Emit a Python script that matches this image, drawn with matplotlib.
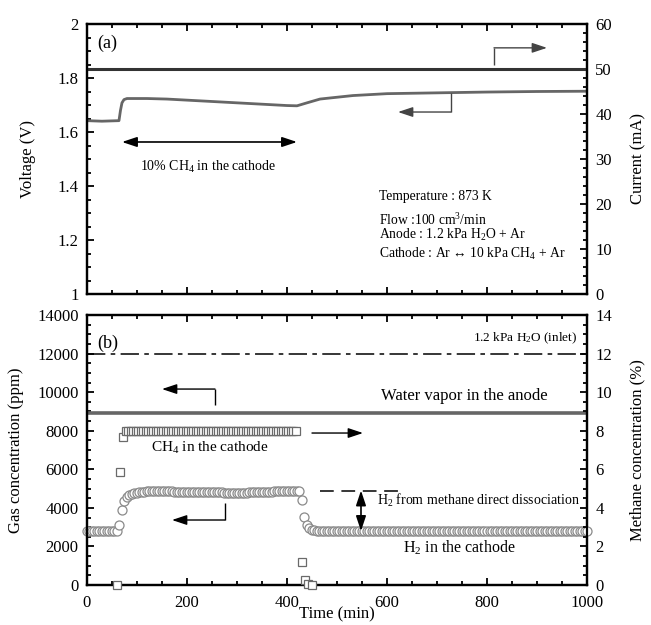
"""Voltage / current and gas concentrations vs. time (two stacked panels)."""

from __future__ import annotations

import matplotlib
import matplotlib.pyplot as plt
import numpy as np
from matplotlib.ticker import FuncFormatter, MultipleLocator

matplotlib.use("Agg")

# ---- panel (a): cell voltage and current -------------------------------
voltage_time = [0, 30, 64, 67, 70, 74, 80, 120, 160, 200, 250, 300, 350, 400,
                420, 440, 466, 486, 532, 600, 700, 800, 900, 1000]
voltage_v = [1.642, 1.640, 1.642, 1.680, 1.708, 1.720, 1.724, 1.724, 1.722,
             1.718, 1.713, 1.708, 1.703, 1.698, 1.697, 1.708, 1.722, 1.726,
             1.735, 1.742, 1.745, 1.748, 1.750, 1.751]
current_time = [0, 1000]
current_ma = [50.0, 50.0]

# ---- panel (b): gas concentrations ---------------------------------------
inlet_time = [0, 1000]
inlet_ppm = [12000, 12000]
water_time = [0, 1000]
water_ppm = [8900, 8900]

h2_time = (list(range(0, 61, 5))
           + [65, 70, 75, 80, 85, 90, 95, 100, 105, 110, 115, 120]
           + list(range(125, 421, 5))
           + [425, 430, 435, 440, 445, 450, 455]
           + list(range(460, 1001, 5)))
h2_ppm = ([2800] * 13
          + [3100, 3900, 4350, 4550, 4650, 4710, 4750, 4780, 4810, 4830, 4840, 4850]
          + [4860] * 10 + [4830] * 10 + [4800] * 10 + [4790] * 10
          + [4820] * 10 + [4860] * 10
          + [4880, 4400, 3550, 3100, 2950, 2870, 2830]
          + [2800] * 109)

ch4_time = [60, 66, 72] + list(range(78, 421, 5)) + [430, 436, 442, 450]
ch4_pct = [0.0, 5.86, 7.67] + [7.98] * 69 + [1.19, 0.26, 0.05, 0.0]

dissociation_time = [466, 626]
dissociation_ppm = [4900, 4900]

TEXT_FONT = ["Liberation Serif", "DejaVu Serif"]


def style_axes(ax, right: bool = False) -> None:
    ax.tick_params(which="both", direction="in", width=1.3, labelsize=12,
                   top=not right, bottom=not right, left=not right, right=right)
    ax.tick_params(which="major", length=5)
    ax.tick_params(which="minor", length=3)
    ax.tick_params(axis="y", pad=6)
    ax.tick_params(axis="x", pad=7)
    for spine in ax.spines.values():
        spine.set_linewidth(1.6)


def l_arrow(ax, x0, y0, y1, x1, color="black") -> None:
    """Vertical stem from (x0, y0) to (x0, y1), then arrow to (x1, y1)."""
    ax.plot([x0, x0], [y0, y1], color=color, lw=1.0, solid_capstyle="butt")
    ax.annotate("", xy=(x1, y1), xytext=(x0, y1),
                arrowprops=dict(arrowstyle="-|>,head_length=0.9,head_width=0.3",
                                color=color, lw=1.0, shrinkA=0, shrinkB=0))


def main() -> None:
    plt.rcParams["font.family"] = TEXT_FONT
    plt.rcParams["mathtext.fontset"] = "custom"
    plt.rcParams["mathtext.rm"] = "Liberation Serif"
    plt.rcParams["mathtext.it"] = "Liberation Serif:italic"

    fig = plt.figure(figsize=(6.51, 6.25), dpi=100)
    ax_v = fig.add_axes([0.1336, 0.5296, 0.7681, 0.4320])
    ax_i = ax_v.twinx()
    ax_g = fig.add_axes([0.1336, 0.0640, 0.7681, 0.4320])
    ax_m = ax_g.twinx()
    fmt = FuncFormatter(lambda v, _: f"{v:g}")

    # ---------------- panel (a) ----------------
    ax_i.plot(current_time, current_ma, color="#333333", lw=2.2)
    ax_v.plot(voltage_time, voltage_v, color="#666666", lw=2.0)
    ax_v.set_xlim(0, 1000)
    ax_v.set_ylim(1, 2)
    ax_i.set_ylim(0, 60)
    ax_v.xaxis.set_major_locator(MultipleLocator(200))
    ax_v.xaxis.set_minor_locator(MultipleLocator(50))
    ax_v.yaxis.set_major_locator(MultipleLocator(0.2))
    ax_v.yaxis.set_minor_locator(MultipleLocator(0.05))
    ax_v.yaxis.set_major_formatter(fmt)
    ax_i.yaxis.set_major_locator(MultipleLocator(10))
    ax_i.yaxis.set_minor_locator(MultipleLocator(2))
    ax_v.tick_params(labelbottom=False)
    style_axes(ax_v)
    style_axes(ax_i, right=True)
    ax_v.set_ylabel("Voltage (V)", fontsize=12)
    ax_i.set_ylabel("Current (mA)", fontsize=12)
    ax_v.yaxis.set_label_coords(-0.102, 0.5)
    ax_i.yaxis.set_label_coords(1.087, 0.5)

    ax_v.text(20, 1.93, "(a)", fontsize=13, va="center")
    ax_v.annotate("", xy=(70, 1.563), xytext=(420, 1.563),
                  arrowprops=dict(arrowstyle="<|-|>,head_length=0.9,head_width=0.3",
                                  color="black", lw=1.2, shrinkA=0, shrinkB=0))
    ax_v.text(242, 1.47, "10% CH$_4$ in the cathode", fontsize=10,
              ha="center", va="center")
    l_arrow(ax_i, 814, 50.9, 54.7, 920, color="#444444")
    l_arrow(ax_v, 728, 1.744, 1.674, 622, color="#444444")

    for y, label in [(21.6, "Temperature : 873 K"),
                     (16.4, "Flow :100 cm$^3$/min"),
                     (13.1, "Anode : 1.2 kPa H$_2$O + Ar"),
                     (8.9, "Cathode : Ar \u2194 10 kPa CH$_4$ + Ar")]:
        ax_i.text(584, y, label, fontsize=9.8, va="center")

    # ---------------- panel (b) ----------------
    ax_g.plot(inlet_time, inlet_ppm, color="black", lw=1.1,
              dashes=(12, 3.5, 3, 3.5))
    ax_g.plot(water_time, water_ppm, color="#666666", lw=2.6)
    ax_g.plot(h2_time, h2_ppm, "o", ms=6.5, mfc="white", mec="#8a8a8a",
              mew=0.9, clip_on=False, zorder=3)
    ax_m.plot(ch4_time, ch4_pct, "s", ms=6.0, mfc="white", mec="#6a6a6a",
              mew=0.9, clip_on=False, zorder=3)
    ax_g.plot(dissociation_time, dissociation_ppm, color="black", lw=1.1,
              dashes=(9, 5))

    ax_g.set_xlim(0, 1000)
    ax_g.set_ylim(0, 14000)
    ax_m.set_ylim(0, 14)
    ax_g.xaxis.set_major_locator(MultipleLocator(200))
    ax_g.xaxis.set_minor_locator(MultipleLocator(50))
    ax_g.yaxis.set_major_locator(MultipleLocator(2000))
    ax_g.yaxis.set_minor_locator(MultipleLocator(500))
    ax_m.yaxis.set_major_locator(MultipleLocator(2))
    ax_m.yaxis.set_minor_locator(MultipleLocator(0.5))
    style_axes(ax_g)
    style_axes(ax_m, right=True)
    ax_g.set_ylabel("Gas concentration (ppm)", fontsize=12)
    ax_m.set_ylabel("Methane concentration (%)", fontsize=12)
    ax_g.yaxis.set_label_coords(-0.126, 0.5)
    ax_m.yaxis.set_label_coords(1.085, 0.5)
    ax_g.set_xlabel("Time (min)", fontsize=12, labelpad=-3)

    ax_g.text(20, 12550, "(b)", fontsize=13, va="center")
    ax_g.text(980, 12800, "1.2 kPa H$_2$O (inlet)", fontsize=9.5,
              ha="right", va="center")
    ax_g.text(754, 9800, "Water vapor in the anode", fontsize=12,
              ha="center", va="center")
    ax_g.text(246, 7100, "CH$_4$ in the cathode", fontsize=11,
              ha="center", va="center")
    ax_g.text(985, 4400, "H$_2$ from methane direct dissociation", fontsize=10,
              ha="right", va="center")
    ax_g.text(744, 1920, "H$_2$ in the cathode", fontsize=11.5,
              ha="center", va="center")

    l_arrow(ax_g, 256, 9330, 10160, 150)
    l_arrow(ax_g, 276, 4250, 3370, 170)
    ax_g.annotate("", xy=(552, 7880), xytext=(450, 7880),
                  arrowprops=dict(arrowstyle="-|>,head_length=0.9,head_width=0.3",
                                  color="black", lw=1.0, shrinkA=0, shrinkB=0))
    ax_g.annotate("", xy=(548, 4900), xytext=(548, 2800),
                  arrowprops=dict(arrowstyle="<|-|>,head_length=0.9,head_width=0.3",
                                  color="black", lw=1.2, shrinkA=0, shrinkB=0))

    fig.savefig("out.png", dpi=100)
    plt.close(fig)


if __name__ == "__main__":
    main()
